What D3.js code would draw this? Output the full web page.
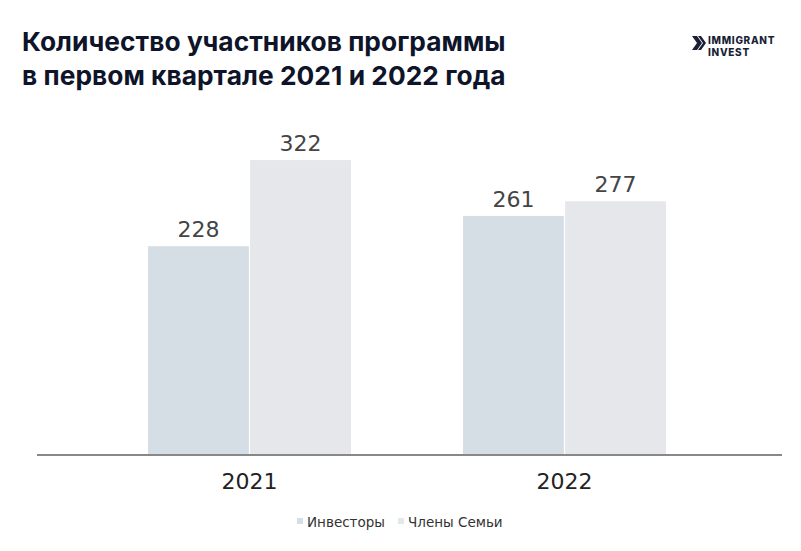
<!DOCTYPE html>
<html><head><meta charset="utf-8">
<script src="https://cdn.jsdelivr.net/npm/d3@7"></script>
<style>body{margin:0;background:#fff}</style>
</head><body>
<svg id="c" width="801" height="551"></svg>
<script>
const categories = ["2021", "2022"];
const seriesNames = ["Инвесторы", "Члены Семьи"];
const investors = [228, 261];
const family = [322, 277];
const titleLines = ["Количество участников программы", "в первом квартале 2021 и 2022 года"];
const colors = ["#d6dee5", "#e5e7eb"];

const svg = d3.select("#c");
svg.append("rect").attr("width", 801).attr("height", 551).attr("fill", "#fff");

const x0 = d3.scaleBand().domain(categories).range([148, 666]).paddingInner(0.3556).paddingOuter(0);
const x1 = d3.scaleBand().domain(seriesNames).range([0, x0.bandwidth()]).paddingInner(0.012);
const y = d3.scaleLinear().domain([0, 350]).range([455, 134.4]);

const data = categories.map((c, i) => ({cat: c, vals: [investors[i], family[i]]}));

const g = svg.append("g");
data.forEach(d => {
  d.vals.forEach((v, j) => {
    const xx = x0(d.cat) + x1(seriesNames[j]);
    g.append("rect").attr("x", xx).attr("y", y(v)).attr("width", x1.bandwidth()).attr("height", y(0) - y(v)).attr("fill", colors[j]);
    g.append("text").attr("x", xx + x1.bandwidth() / 2).attr("y", y(v) - 9)
      .attr("text-anchor", "middle").attr("font-family", "DejaVu Sans").attr("font-size", 22)
      .attr("fill", "#444").text(v);
  });
});

const ax = svg.append("g").attr("transform", "translate(0,455)").call(d3.axisBottom(x0).tickSize(0).tickPadding(18));
ax.select(".domain").remove();
ax.selectAll("text").attr("font-family", "DejaVu Sans").attr("font-size", 22).attr("fill", "#222");
svg.append("line").attr("x1", 37).attr("x2", 782).attr("y1", 455).attr("y2", 455).attr("stroke", "#888").attr("stroke-width", 2);

svg.selectAll(".title").data(titleLines).enter().append("text")
  .attr("x", 22).attr("y", (d, i) => 51 + i * 34)
  .attr("font-family", "Inter").attr("font-weight", 700).attr("font-size", 26.3)
  .attr("fill", "#0e1429").attr("letter-spacing", 0.05).text(d => d);

// logo
const lg = svg.append("g").attr("transform", "translate(692,36)");
lg.append("path").attr("d", "M0,0 L5,0 L10,7 L5,14 L0,14 L5,7 Z").attr("fill", "#1a1f36");
lg.append("path").attr("d", "M5,0 L8,0 L13,7 L8,14 L5,14 L10,7 Z").attr("fill", "#1a1f36").attr("transform","translate(1,0)");
lg.append("text").attr("x", 16).attr("y", 7.5).attr("font-family", "Inter").attr("font-weight", 800).attr("font-size", 10).attr("letter-spacing", 0.7).attr("fill", "#1a1f36").text("IMMIGRANT");
lg.append("text").attr("x", 16).attr("y", 20).attr("font-family", "Inter").attr("font-weight", 800).attr("font-size", 10).attr("letter-spacing", 0.7).attr("fill", "#1a1f36").text("INVEST");

// legend
const leg = svg.append("g");
const legX = [297, 398];
seriesNames.forEach((s, i) => {
  leg.append("rect").attr("x", legX[i]).attr("y", 518).attr("width", 6).attr("height", 6).attr("fill", colors[i]);
  leg.append("text").attr("x", legX[i] + 10).attr("y", 526.5).attr("font-family", "DejaVu Sans").attr("font-size", 13.5)
    .attr("fill", "#333").text(s);
});
</script>
</body></html>
